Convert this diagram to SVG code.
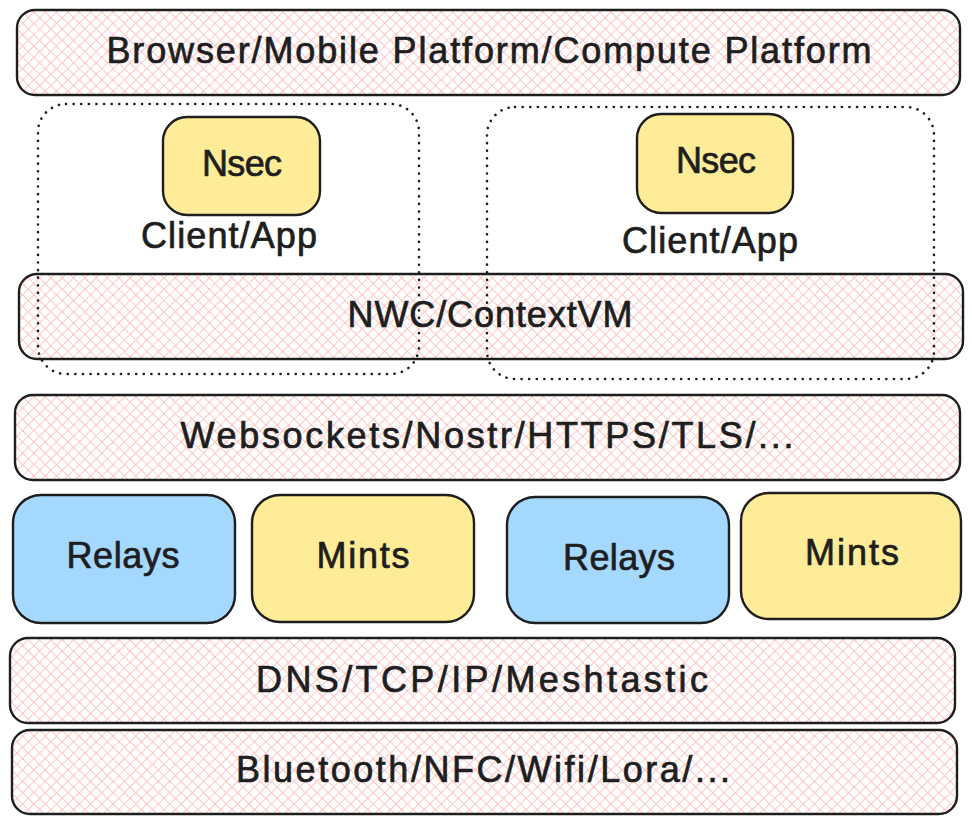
<svg xmlns="http://www.w3.org/2000/svg" width="972" height="824" viewBox="0 0 972 824">
<defs>
<pattern id="hatch" patternUnits="userSpaceOnUse" width="8" height="8" patternTransform="rotate(45)">
<line x1="0" y1="0" x2="0" y2="8" stroke="#ffbcbc" stroke-width="1.7"/>
<line x1="0" y1="0" x2="8" y2="0" stroke="#ffbcbc" stroke-width="1.7"/>
</pattern>
<style>
.bar{fill:url(#hatch);stroke:#1e1e1e;stroke-width:2.4}
.blue{fill:#a5d8ff;stroke:#1e1e1e;stroke-width:2.4}
.yellow{fill:#ffec99;stroke:#1e1e1e;stroke-width:2.4}
.dot{fill:none;stroke:#1e1e1e;stroke-width:2.6;stroke-dasharray:0.1 7.5;stroke-linecap:round}
.t{font-family:"Liberation Sans","DejaVu Sans",sans-serif;font-size:36px;fill:#1e1e1e;stroke:#1e1e1e;stroke-width:0.7;text-anchor:middle}
</style>
</defs>
<rect width="972" height="824" fill="#ffffff"/>

<g id="platform">
<rect class="bar" x="17" y="10" width="943" height="85" rx="18"/>
<text class="t" x="489" y="63" textLength="765">Browser/Mobile Platform/Compute Platform</text>
</g>

<g id="nwc">
<rect class="bar" x="19" y="274" width="944" height="85" rx="18"/>
<text class="t" x="490" y="327" textLength="285">NWC/ContextVM</text>
</g>

<g id="client-left">
<rect class="dot" x="38" y="104" width="381" height="270" rx="28"/>
<text class="t" x="229" y="248" textLength="176">Client/App</text>
</g>
<g id="nsec-left">
<rect class="yellow" x="163" y="117" width="157" height="98" rx="24"/>
<text class="t" x="242" y="176" textLength="80">Nsec</text>
</g>

<g id="client-right">
<rect class="dot" x="487" y="107" width="447" height="272" rx="28"/>
<text class="t" x="710" y="253" textLength="176">Client/App</text>
</g>
<g id="nsec-right">
<rect class="yellow" x="637" y="114" width="156" height="99" rx="24"/>
<text class="t" x="716" y="173" textLength="80">Nsec</text>
</g>

<g id="transport">
<rect class="bar" x="15" y="395" width="945" height="85" rx="18"/>
<text class="t" x="487" y="448" textLength="613">Websockets/Nostr/HTTPS/TLS/...</text>
</g>

<g id="relays-left">
<rect class="blue" x="13" y="495" width="222" height="128" rx="28"/>
<text class="t" x="123" y="568" textLength="113">Relays</text>
</g>
<g id="mints-left">
<rect class="yellow" x="252" y="495" width="222" height="127" rx="28"/>
<text class="t" x="363" y="568" textLength="93">Mints</text>
</g>
<g id="relays-right">
<rect class="blue" x="507" y="497" width="222" height="126" rx="28"/>
<text class="t" x="619" y="570" textLength="112">Relays</text>
</g>
<g id="mints-right">
<rect class="yellow" x="741" y="493" width="220" height="126" rx="28"/>
<text class="t" x="852" y="565" textLength="94">Mints</text>
</g>

<g id="network">
<rect class="bar" x="10" y="638" width="945" height="85" rx="18"/>
<text class="t" x="482" y="692" textLength="452">DNS/TCP/IP/Meshtastic</text>
</g>

<g id="physical">
<rect class="bar" x="12" y="730" width="945" height="84" rx="18"/>
<text class="t" x="483" y="782" textLength="494">Bluetooth/NFC/Wifi/Lora/...</text>
</g>

<g id="connectors"></g>
</svg>
